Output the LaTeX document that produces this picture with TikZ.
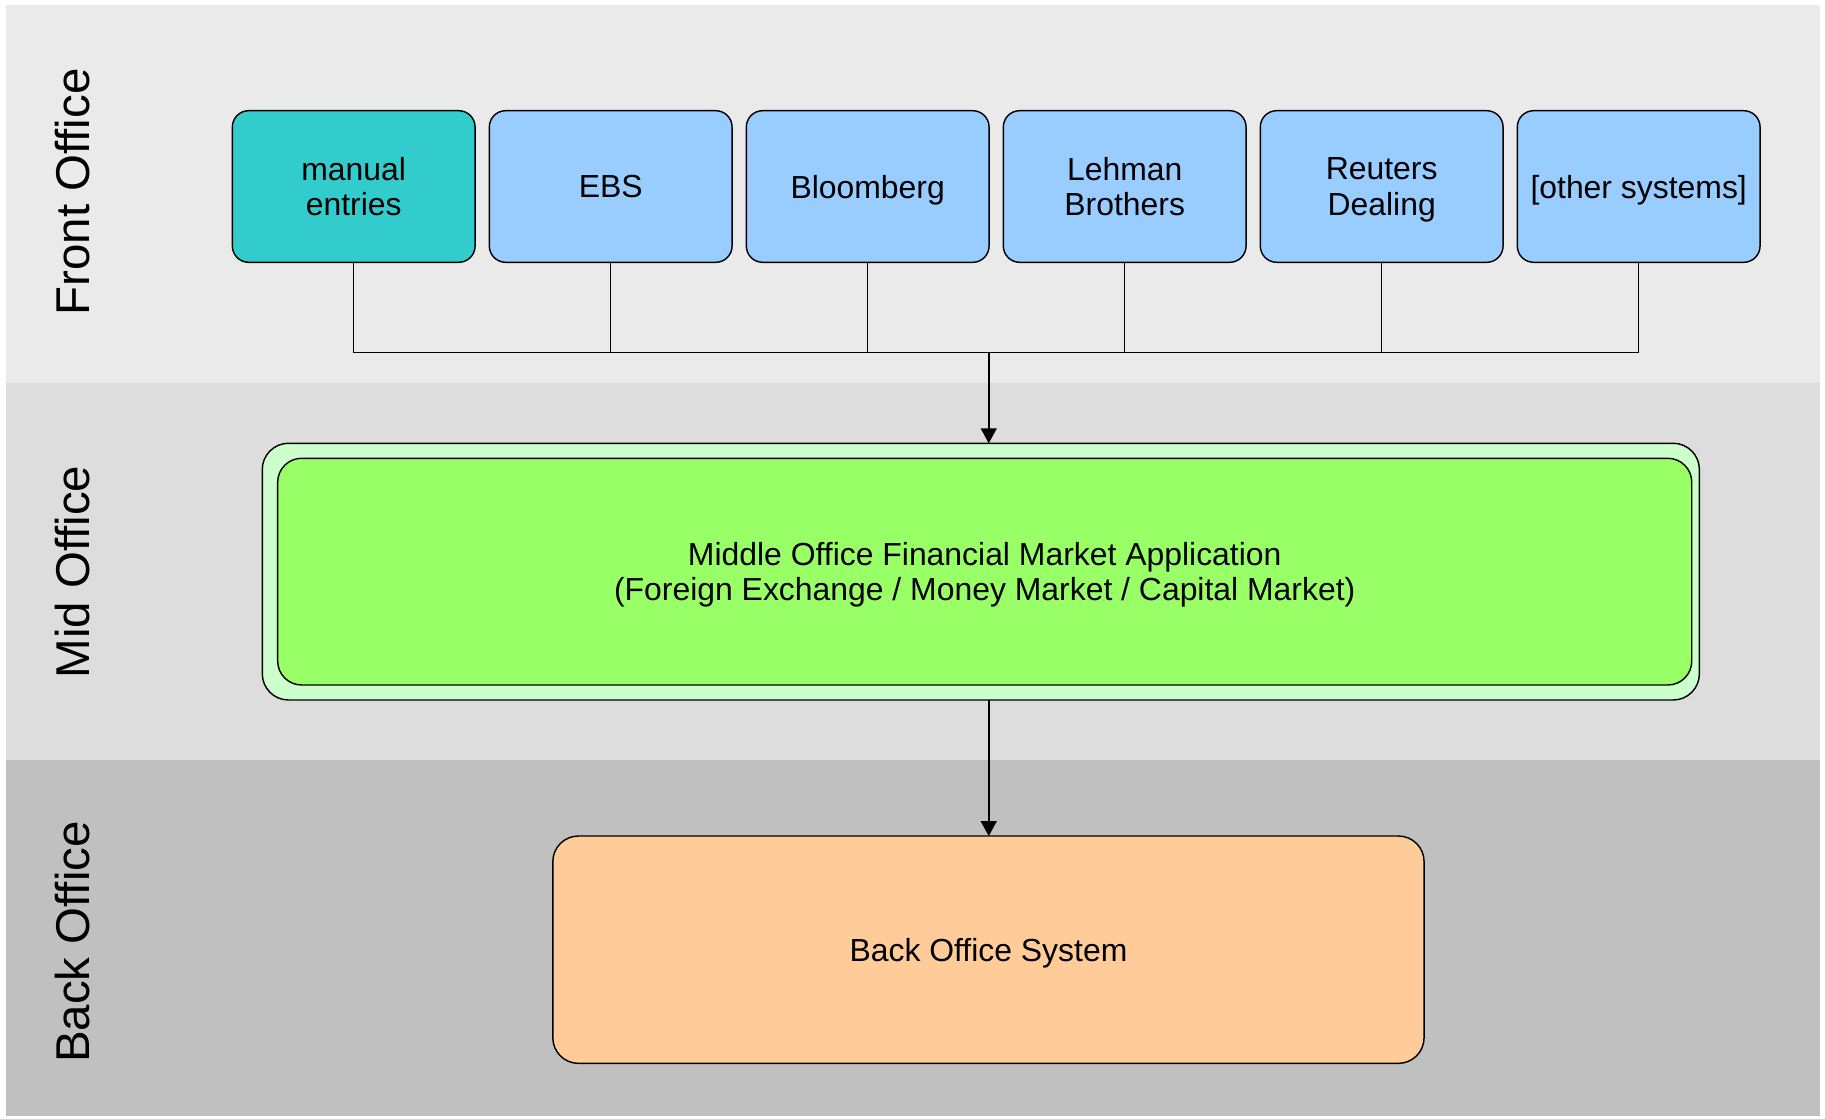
\documentclass[tikz,border=0pt]{standalone}
\usepackage{fontspec}
\setmainfont{Liberation Sans}
\usetikzlibrary{positioning,arrows.meta}
\definecolor{frontband}{HTML}{EAEAEA}
\definecolor{midband}{HTML}{DDDDDD}
\definecolor{backband}{HTML}{C0C0C0}
\definecolor{manualfill}{HTML}{33CCCC}
\definecolor{feedfill}{HTML}{99CCFF}
\definecolor{midouter}{HTML}{CCFFCC}
\definecolor{midinner}{HTML}{99FF66}
\definecolor{backfill}{HTML}{FFCC99}
\tikzset{
	panel/.style={draw=black, line width=0.7pt, align=center, inner sep=0pt, outer sep=0pt, text depth=0pt, font=\fontsize{15.6}{17.4}\selectfont},
	feed/.style={panel, fill=feedfill, rounded corners=0.28cm, minimum width=4.171cm, minimum height=2.605cm},
	lane/.style={rotate=90, font=\fontsize{23.2}{26}\selectfont},
	wire/.style={line width=0.65pt},
	flow/.style={line width=0.8pt, -{Triangle[width=0.275cm,length=0.258cm]}}
}

\begin{document}
\begin{tikzpicture}
		%%%%% START %%%%%
		
		\useasboundingbox (0, 0) rectangle (31.36, 19.212);
		
		\fill[frontband] (0.103, 12.630) rectangle (31.275, 19.126);
		\fill[midband] (0.103, 6.152) rectangle (31.275, 12.630);
		\fill[backband] (0.103, 0.034) rectangle (31.275, 6.152);
		
		\node[lane] (frontlbl) at (1.246, 15.912) {Front Office};
		\node[lane] (midlbl) at (1.246, 9.382) {Mid Office};
		\node[lane] (backlbl) at (1.246, 3.024) {Back Office};
		
		\node[feed, fill=manualfill] (manual) at (6.078, 16.007) {manual\\entries};
		\node[feed, right=0.245cm of manual] (ebs) {EBS};
		\node[feed, right=0.245cm of ebs] (bloomberg) {Bloomberg};
		\node[feed, right=0.245cm of bloomberg] (lehman) {Lehman\\Brothers};
		\node[feed, right=0.245cm of lehman] (reuters) {Reuters\\Dealing};
		\node[feed, right=0.245cm of reuters] (others) {[other systems]};
		
		\coordinate (bus) at (16.990, 13.158);
		\draw[wire] (manual.south) -- (manual.south |- bus) -- (others.south |- bus) -- (others.south);
		\draw[wire] (ebs.south) -- (ebs.south |- bus);
		\draw[wire] (bloomberg.south) -- (bloomberg.south |- bus);
		\draw[wire] (lehman.south) -- (lehman.south |- bus);
		\draw[wire] (reuters.south) -- (reuters.south |- bus);
		
		\node[panel, fill=midouter, rounded corners=0.45cm, minimum width=24.694cm, minimum height=4.411cm] (midframe) at (16.854, 9.389) {};
		\node[panel, fill=midinner, rounded corners=0.41cm, minimum width=24.298cm, minimum height=3.895cm] (midapp) at (16.921, 9.389) {Middle Office Financial Market Application\\(Foreign Exchange / Money Market / Capital Market)};
		
		\node[panel, fill=backfill, rounded corners=0.44cm, minimum width=14.971cm, minimum height=3.906cm] (backsys) at (16.985, 2.893) {Back Office System};
		
		\draw[flow] (bus) -- (bus |- midframe.north);
		\draw[flow] (bus |- midframe.south) -- (bus |- backsys.north);
		
		%%%%% END %%%%%
\end{tikzpicture}
\end{document}
